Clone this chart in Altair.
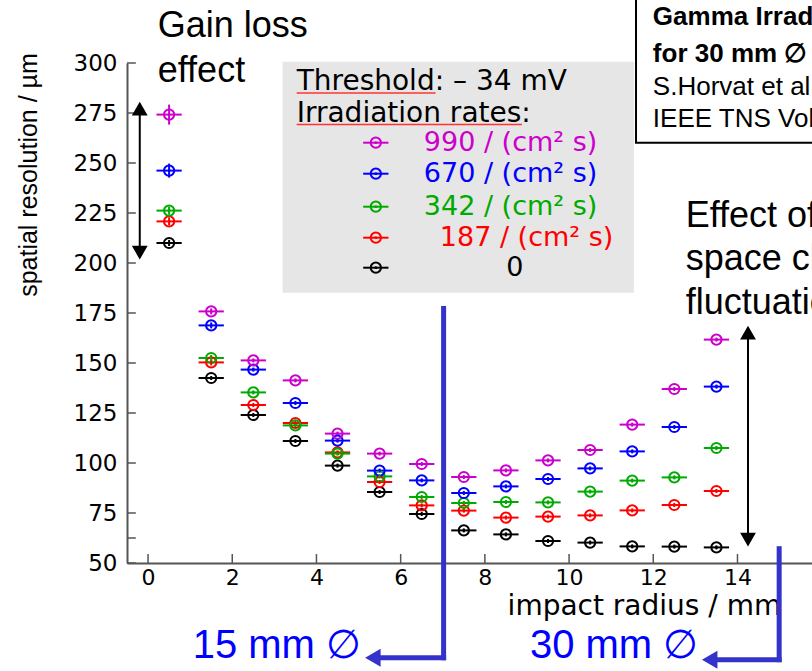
import altair as alt
import pandas as pd

# ---------------- data ----------------
radius = [0.5, 1.5, 2.5, 3.5, 4.5, 5.5, 6.5, 7.5, 8.5, 9.5, 10.5, 11.5, 12.5, 13.5]
res_990 = [274.2, 175.8, 151.3, 141.3, 114.7, 104.7, 99.5, 93.0, 96.3, 101.3, 106.5, 119.2, 137.0, 161.7]
res_670 = [246.2, 168.8, 146.7, 130.0, 111.2, 96.2, 91.3, 85.0, 88.3, 92.0, 97.3, 105.8, 118.0, 138.2]
res_342 = [226.2, 152.5, 135.3, 118.8, 104.7, 93.3, 83.0, 80.0, 80.5, 80.3, 85.7, 91.2, 92.8, 107.5]
res_187 = [220.8, 150.3, 129.0, 120.0, 105.3, 90.5, 78.8, 76.2, 72.7, 73.2, 73.8, 76.3, 79.0, 86.0]
res_0 = [210.0, 142.5, 124.0, 111.0, 98.7, 85.5, 74.5, 66.3, 64.3, 61.0, 60.2, 58.3, 58.2, 57.8]
err_990 = [5.0, 1.5, 1.0, 1.0, 1.0, 1.0, 1.0, 1.0, 1.0, 1.0, 1.0, 1.0, 1.0, 1.0]
err_670 = [3.5, 1.5, 1.0, 1.0, 1.0, 1.0, 1.0, 1.0, 1.0, 1.0, 1.0, 1.0, 1.0, 1.0]
err_342 = [2.0, 1.5, 1.0, 1.0, 1.0, 1.0, 1.0, 1.0, 1.0, 1.0, 1.0, 1.0, 1.0, 1.0]
err_187 = [2.0, 1.5, 1.0, 1.0, 1.0, 1.0, 1.0, 1.0, 1.0, 1.0, 1.0, 1.0, 1.0, 1.0]
err_0 = [1.5, 1.0, 1.0, 1.0, 1.0, 1.0, 1.0, 1.0, 1.0, 1.0, 1.0, 1.0, 1.0, 1.0]

series_names = ["990", "670", "342", "187", "0"]
series_labels = ["990 / (cm² s)", "670 / (cm² s)", "342 / (cm² s)", "187 / (cm² s)", "0"]
series_colors = ["#CC00CC", "#0000FF", "#00AA00", "#FF0000", "#000000"]

x_ticks = [0, 2, 4, 6, 8, 10, 12, 14]
y_ticks = [50, 62.5, 75, 100, 125, 150, 175, 200, 225, 250, 275, 300]
y_labels = [50, 75, 100, 125, 150, 175, 200, 225, 250, 275, 300]

rows = []
for name, vals, errs in zip(series_names, [res_990, res_670, res_342, res_187, res_0],
                            [err_990, err_670, err_342, err_187, err_0]):
    for r, v, e in zip(radius, vals, errs):
        rows.append({"series": name, "x": r, "y": v, "err": e})
data = pd.DataFrame(rows[::-1])

# ---------------- scales & axes ----------------
XS = alt.Scale(domain=[-0.5, 15.77], nice=False, zero=False)
YS = alt.Scale(domain=[50, 300], nice=False, zero=False)
COLOR = alt.Color("series:N", scale=alt.Scale(domain=series_names, range=series_colors), legend=None)
XAX = alt.Axis(values=x_ticks, ticks=False, grid=False, domainColor="#555555", domainWidth=2,
               labelFont="DejaVu Sans", labelFontSize=22, labelColor="#000000", labelPadding=4,
               labelFlush=False, title=None)
YAX = alt.Axis(values=y_labels, ticks=False, grid=False, domainColor="#555555", domainWidth=2,
               labelFont="DejaVu Sans", labelFontSize=23, labelColor="#000000", labelPadding=10,
               labelFlush=False, title=None)


def X(field="x"):
    return alt.X(f"{field}:Q", scale=XS, axis=XAX)


def Y(field="y"):
    return alt.Y(f"{field}:Q", scale=YS, axis=YAX)


def markers(df):
    base = alt.Chart(df).transform_calculate(
        xl="datum.x - 0.3", xr="datum.x + 0.3",
        yl="datum.y - datum.err", yh="datum.y + datum.err")
    hbar = base.mark_rule(strokeWidth=2).encode(x=X("xl"), x2="xr:Q", y=Y(), color=COLOR)
    vbar = base.mark_rule(strokeWidth=2).encode(x=X(), y=Y("yl"), y2="yh:Q", color=COLOR)
    ring = base.mark_point(shape="circle", filled=False, size=105, strokeWidth=2, opacity=1).encode(
        x=X(), y=Y(), color=COLOR)
    dot = base.mark_point(shape="circle", filled=True, size=7, opacity=1).encode(
        x=X(), y=Y(), color=COLOR)
    return [hbar, vbar, ring, dot]


def texts(items, **kw):
    df = pd.DataFrame(items, columns=["x", "y", "t"])
    return alt.Chart(df).mark_text(**kw).encode(x=X(), y=Y(), text="t:N")


def rule(x, y, x2, y2, **kw):
    df = pd.DataFrame({"x": [x], "y": [y], "x2": [x2], "y2": [y2]})
    return alt.Chart(df).mark_rule(**kw).encode(x=X(), y=Y(), x2="x2:Q", y2="y2:Q")


def head(x, y, shape, color, size):
    df = pd.DataFrame({"x": [x], "y": [y]})
    return alt.Chart(df).mark_point(shape=shape, filled=True, size=size, color=color, opacity=1).encode(
        x=X(), y=Y())


layers = []

# legend background
leg_bg = pd.DataFrame({"x": [3.195], "x2": [11.54], "y": [185.15], "y2": [300.65]})
layers.append(alt.Chart(leg_bg).mark_rect(color="#E6E6E6").encode(x=X(), x2="x2:Q", y=Y(), y2="y2:Q"))

# inward ticks
xt = pd.DataFrame({"x": x_ticks})
layers.append(alt.Chart(xt).transform_calculate(y="50", y2="54.5").mark_rule(
    color="#555555", strokeWidth=1.5).encode(x=X(), y=Y(), y2="y2:Q"))
yt = pd.DataFrame({"y": y_ticks})
layers.append(alt.Chart(yt).transform_calculate(x="-0.5", x2="-0.29").mark_rule(
    color="#555555", strokeWidth=1.5).encode(x=X(), x2="x2:Q", y=Y()))

layers += markers(data)

# legend entries
leg_y = [260.15, 244.65, 228.15, 212.65, 197.65]
leg = pd.DataFrame({"series": series_names, "x": [5.41] * 5, "y": leg_y, "err": [0.5] * 5})
layers += markers(leg)
for i in range(4):
    layers.append(texts([[6.55 if i < 3 else 6.93, leg_y[i], series_labels[i]]],
                        align="left", baseline="middle", font="DejaVu Sans", fontSize=27,
                        color=series_colors[i]))
layers.append(texts([[8.71, leg_y[4], series_labels[4]]], align="center", baseline="middle",
                    font="DejaVu Sans", fontSize=27, color="#000000"))
layers.append(texts([[3.53, 286.65, "Threshold: – 34 mV"], [3.53, 270.65, "Irradiation rates:"]],
                    align="left", baseline="alphabetic", font="DejaVu Sans", fontSize=28, color="#000000"))
layers.append(rule(3.53, 285.0, 6.83, 285.0, color="#FF3333", strokeWidth=1.5))
layers.append(rule(3.53, 269.2, 8.88, 269.2, color="#FF3333", strokeWidth=1.5))

# top-right reference box
box = pd.DataFrame({"x": [11.59], "x2": [16.3], "y": [260.15], "y2": [340]})
layers.append(alt.Chart(box).mark_rect(fill="#FFFFFF", stroke="#000000", strokeWidth=2).encode(
    x=X(), x2="x2:Q", y=Y(), y2="y2:Q"))
layers.append(texts([[11.99, 319.2, "Gamma Irradiation Facility"], [11.99, 300.7, "for 30 mm ∅ tubes"]],
                    align="left", baseline="alphabetic", font="Liberation Sans", fontSize=26,
                    fontWeight="bold", color="#000000"))
layers.append(texts([[11.99, 284.2, "S.Horvat et al."], [11.99, 268.2, "IEEE TNS Vol. 53"]],
                    align="left", baseline="alphabetic", font="Liberation Sans", fontSize=26,
                    color="#000000"))

# slide annotations
layers.append(texts([[0.23, 313.2, "Gain loss"], [0.23, 290.6, "effect"],
                     [12.77, 218.2, "Effect of"], [12.77, 196.7, "space charge"],
                     [12.77, 174.7, "fluctuations"]],
                    align="left", baseline="alphabetic", font="Liberation Sans", fontSize=36,
                    color="#000000"))

# black double arrows
layers.append(rule(-0.197, 277.15, -0.197, 205.15, color="#000000", strokeWidth=2))
layers.append(head(-0.197, 277.15, "triangle-up", "#000000", 250))
layers.append(head(-0.197, 205.15, "triangle-down", "#000000", 250))
layers.append(rule(14.25, 165.15, 14.25, 61.65, color="#000000", strokeWidth=2))
layers.append(head(14.25, 165.15, "triangle-up", "#000000", 250))
layers.append(head(14.25, 61.65, "triangle-down", "#000000", 250))

# axis titles
layers.append(texts([[8.54, 23.9, "impact radius / mm"]], align="left", baseline="alphabetic",
                    font="DejaVu Sans", fontSize=28, color="#000000"))
ytitle = pd.DataFrame({"x": [-2.82], "y": [244.0], "t": ["spatial resolution / µm"]})
layers.append(alt.Chart(ytitle).mark_text(angle=270, align="center", baseline="middle",
                                          font="Liberation Sans", fontSize=25, color="#000000").encode(
    x=X(), y=Y(), text="t:N"))

# blue diameter markers
BLUE = "#3333CC"
layers.append(rule(7.02, 177.2, 7.02, 2.65, color=BLUE, strokeWidth=5, strokeCap="square"))
layers.append(rule(5.5, 2.65, 7.02, 2.65, color=BLUE, strokeWidth=5, strokeCap="square"))
layers.append(head(5.34, 2.65, "triangle-left", BLUE, 320))
layers.append(rule(14.99, 57.15, 14.99, 1.65, color=BLUE, strokeWidth=5, strokeCap="square"))
layers.append(rule(13.5, 1.65, 14.99, 1.65, color=BLUE, strokeWidth=5, strokeCap="square"))
layers.append(head(13.34, 1.65, "triangle-left", BLUE, 320))
layers.append(texts([[1.06, 2.65, "15 mm ∅"], [9.07, 2.65, "30 mm ∅"]], align="left",
                    baseline="alphabetic", font="Liberation Sans", fontSize=40, color="#0000FF"))

chart = alt.layer(*layers).properties(
    width=685, height=500,
    autosize=alt.AutoSizeParams(type="none"),
    padding={"left": 127, "top": 63, "right": 0, "bottom": 108},
    background="#FFFFFF",
).configure_view(stroke=None)

chart.save("out.html", embed_options={"renderer": "svg", "actions": False})
